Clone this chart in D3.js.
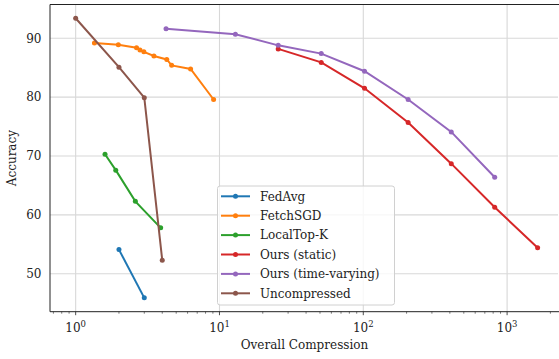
<!DOCTYPE html>
<html>
<head>
<meta charset="utf-8">
<script src="https://cdn.jsdelivr.net/npm/d3@7"></script>
<style>
body { margin: 0; background: #fff; }
text { font-family: "DejaVu Serif", "Liberation Serif", serif; }
</style>
</head>
<body>
<div class="content"></div>
<script>
// series values
var names = ["FedAvg", "FetchSGD", "LocalTop-K", "Ours (static)", "Ours (time-varying)", "Uncompressed"];
var colors = ["#1f77b4", "#ff7f0e", "#2ca02c", "#d62728", "#9467bd", "#8c564b"];
var fedavgX = [2.0, 3.0];
var fedavgY = [54.1, 45.9];
var fetchX = [1.35, 1.98, 2.65, 2.8, 2.98, 3.5, 4.3, 4.65, 6.3, 9.1];
var fetchY = [89.2, 88.9, 88.4, 88.0, 87.7, 87.0, 86.4, 85.4, 84.8, 79.6];
var localX = [1.6, 1.9, 2.6, 3.9];
var localY = [70.3, 67.6, 62.3, 57.8];
var staticX = [25.6, 51, 102, 205, 409, 820, 1630];
var staticY = [88.2, 85.9, 81.5, 75.7, 68.7, 61.3, 54.4];
var varyX = [4.25, 12.9, 25.6, 51, 102, 205, 409, 820];
var varyY = [91.6, 90.7, 88.8, 87.4, 84.4, 79.6, 74.1, 66.4];
var uncX = [1, 2, 3, 4];
var uncY = [93.4, 85.1, 79.9, 52.3];
var xTicks = [1, 10, 100, 1000];
var yTicks = [50, 60, 70, 80, 90];

var width = 559, height = 359;
var m = {left: 50, top: 4.5, right: 1, bottom: 47.3};
var fs = 12;
var svg = d3.select(".content").append("svg").attr("width", width).attr("height", height)
	.attr("font-family", "'DejaVu Serif', 'Liberation Serif', serif");

var x = d3.scaleLog().domain([0.663, 2259]).range([m.left, width - m.right]);
var y = d3.scaleLinear().domain([43.55, 95.74]).range([height - m.bottom, m.top]);

// grid
svg.append("g").selectAll("line").data(xTicks).enter().append("line")
	.attr("x1", function(d){return x(d);}).attr("x2", function(d){return x(d);})
	.attr("y1", y.range()[0]).attr("y2", y.range()[1])
	.attr("stroke", "#d8d8d8").attr("stroke-width", 1.1);
svg.append("g").selectAll("line").data(yTicks).enter().append("line")
	.attr("y1", function(d){return y(d);}).attr("y2", function(d){return y(d);})
	.attr("x1", x.range()[0]).attr("x2", x.range()[1])
	.attr("stroke", "#d8d8d8").attr("stroke-width", 1.1);

// series
var series = [[fedavgX, fedavgY], [fetchX, fetchY], [localX, localY], [staticX, staticY], [varyX, varyY], [uncX, uncY]];
var line = d3.line().x(function(d){return x(d[0]);}).y(function(d){return y(d[1]);});
series.forEach(function(s, i){
	var pts = d3.zip(s[0], s[1]);
	svg.append("path").datum(pts).attr("d", line)
		.attr("stroke", colors[i]).attr("stroke-width", 2).attr("fill", "none");
	svg.append("g").selectAll("circle").data(pts).enter().append("circle")
		.attr("cx", function(d){return x(d[0]);}).attr("cy", function(d){return y(d[1]);})
		.attr("r", 2.5).attr("fill", colors[i]);
});

// spines
var ax = svg.append("g").attr("stroke", "#222").attr("stroke-width", 1);
ax.append("line").attr("x1", m.left).attr("x2", m.left).attr("y1", m.top).attr("y2", height - m.bottom);
ax.append("line").attr("x1", m.left).attr("x2", width).attr("y1", height - m.bottom).attr("y2", height - m.bottom);
ax.append("line").attr("x1", m.left).attr("x2", width).attr("y1", m.top).attr("y2", m.top);

// x ticks
var minor = [];
[0.1, 1, 10, 100, 1000].forEach(function(p){
	for (var k = 2; k < 10; k++) { var v = p * k; if (v > x.domain()[0] && v < x.domain()[1]) minor.push(v); }
});
var yb = height - m.bottom;
svg.append("g").selectAll("line").data(minor).enter().append("line")
	.attr("x1", function(d){return x(d);}).attr("x2", function(d){return x(d);})
	.attr("y1", yb).attr("y2", yb + 2).attr("stroke", "#222").attr("stroke-width", 0.6);
svg.append("g").selectAll("line").data(xTicks).enter().append("line")
	.attr("x1", function(d){return x(d);}).attr("x2", function(d){return x(d);})
	.attr("y1", yb).attr("y2", yb + 3.5).attr("stroke", "#222").attr("stroke-width", 0.8);
var xl = svg.append("g").selectAll("text").data(xTicks).enter().append("text")
	.attr("x", function(d){return x(d);}).attr("y", yb + 20)
	.attr("text-anchor", "middle").attr("font-size", fs).attr("fill", "#222");
xl.append("tspan").text("10");
xl.append("tspan").attr("dy", -5).attr("font-size", 8.5).text(function(d){return Math.round(Math.log10(d));});

// y tick labels (no tick marks in the picture)
svg.append("g").selectAll("text").data(yTicks).enter().append("text")
	.attr("x", m.left - 8.5).attr("y", function(d){return y(d) + 4.3;})
	.attr("text-anchor", "end").attr("font-size", fs).attr("fill", "#222").text(function(d){return d;});

// axis labels
svg.append("text").attr("x", (m.left + width) / 2).attr("y", 349)
	.attr("text-anchor", "middle").attr("font-size", fs).attr("fill", "#222").text("Overall Compression");
svg.append("text").attr("transform", "translate(16," + ((m.top + height - m.bottom) / 2) + ") rotate(-90)")
	.attr("text-anchor", "middle").attr("font-size", fs).attr("fill", "#222").text("Accuracy");

// legend
var lg = svg.append("g");
lg.append("rect").attr("x", 217.5).attr("y", 186).attr("width", 177).attr("height", 119).attr("rx", 2.5)
	.attr("fill", "#fff").attr("fill-opacity", 0.8).attr("stroke", "#d0d0d0").attr("stroke-width", 1);
names.forEach(function(n, i){
	var yy = 196.3 + i * 19.4;
	lg.append("line").attr("x1", 221).attr("x2", 250).attr("y1", yy).attr("y2", yy)
		.attr("stroke", colors[i]).attr("stroke-width", 2);
	lg.append("circle").attr("cx", 235.5).attr("cy", yy).attr("r", 2.5).attr("fill", colors[i]);
	lg.append("text").attr("x", 260).attr("y", yy + 4.3).attr("font-size", fs).attr("fill", "#222").text(n);
});
</script>
</body>
</html>
